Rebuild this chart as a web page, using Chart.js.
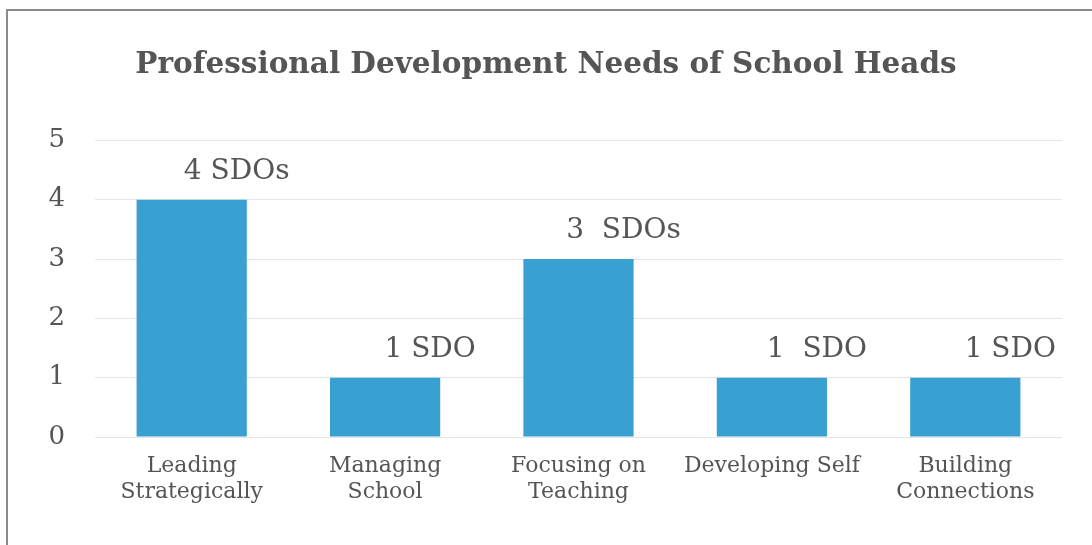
<!DOCTYPE html>
<html>
<head>
<meta charset="utf-8">
<script src="https://cdn.jsdelivr.net/npm/chart.js@4"></script>
<style>
    html, body { margin: 0; padding: 0; background: #fff; overflow: hidden; }
    #wrap { position: relative; width: 1092px; height: 545px; }
    #frame {
        position: absolute; left: 6px; top: 9px; width: 1200px; height: 700px;
        border-left: 2px solid #8a8a8a; border-top: 2px solid #8a8a8a;
        pointer-events: none;
    }
    canvas { position: absolute; left: 0; top: 0; }
</style>
</head>
<body>
<div id="wrap">
    <canvas id="chart" width="1092" height="545"></canvas>
    <div id="frame"></div>
</div>
<script>
const categories = [
    ['Leading', 'Strategically'],
    ['Managing', 'School'],
    ['Focusing on', 'Teaching'],
    'Developing Self',
    ['Building', 'Connections']
];
const sdoCounts = [4, 1, 3, 1, 1];
const countLabels = ['4 SDOs', '1 SDO', '3  SDOs', '1  SDO', '1 SDO'];
const yTicks = [0, 1, 2, 3, 4, 5];

const COLORS = {
    bar: '#39a1d1',
    text: '#555555',
    title: '#555555',
    grid: '#e6e6e6'
};
const SERIF = '"DejaVu Serif", "Liberation Serif", serif';

// writes the "n SDOs" text above each bar, a little to the right of centre
const countLabelPlugin = {
    id: 'countLabels',
    afterDatasetsDraw(chart) {
        const ctx = chart.ctx;
        const meta = chart.getDatasetMeta(0);
        ctx.save();
        ctx.font = '28px ' + SERIF;
        ctx.fillStyle = COLORS.text;
        ctx.textAlign = 'center';
        ctx.textBaseline = 'alphabetic';
        meta.data.forEach((bar, i) => {
            ctx.fillText(countLabels[i], bar.x + 45, bar.y - 21);
        });
        ctx.restore();
    }
};

new Chart(document.getElementById('chart'), {
    type: 'bar',
    data: {
        labels: categories,
        datasets: [{
            data: sdoCounts,
            backgroundColor: COLORS.bar,
            categoryPercentage: 0.57,
            barPercentage: 1.0
        }]
    },
    options: {
        responsive: false,
        animation: false,
        layout: { padding: { left: 30, right: 30, top: 0, bottom: 28 } },
        plugins: {
            legend: { display: false },
            tooltip: { enabled: false },
            title: {
                display: true,
                text: 'Professional Development Needs of School Heads',
                color: COLORS.title,
                font: { family: SERIF, size: 29.5, weight: 'bold', lineHeight: 1.2 },
                padding: { top: 48, bottom: 57 }
            }
        },
        scales: {
            x: {
                afterFit(scale) { scale.height = 80; },
                grid: { display: false },
                border: { display: false },
                ticks: {
                    color: COLORS.text,
                    font: { family: SERIF, size: 22, lineHeight: 1.18 },
                    padding: 8,
                    maxRotation: 0,
                    autoSkip: false
                }
            },
            y: {
                min: 0,
                max: 5,
                afterFit(scale) { scale.width = 65; },
                afterBuildTicks(scale) { scale.ticks = yTicks.map(v => ({ value: v })); },
                grid: { color: COLORS.grid, drawTicks: false },
                border: { display: false },
                ticks: {
                    color: COLORS.text,
                    font: { family: SERIF, size: 26 },
                    padding: 30
                }
            }
        }
    },
    plugins: [countLabelPlugin]
});
</script>
</body>
</html>
